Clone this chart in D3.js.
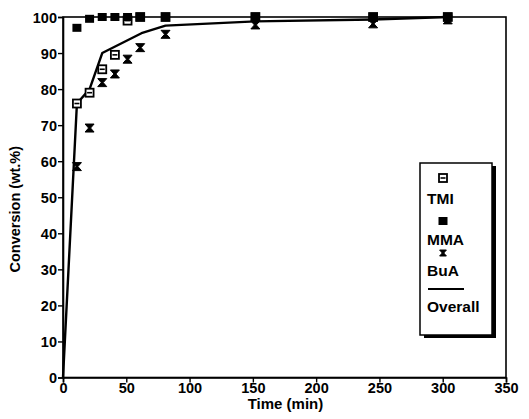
<!DOCTYPE html>
<html>
<head>
<meta charset="utf-8">
<script src="https://cdn.jsdelivr.net/npm/d3@7"></script>
<style>
  body { margin: 0; background: #fff; }
  text { font-family: "Liberation Sans", Arial, sans-serif; font-weight: bold; }
</style>
</head>
<body>
<svg id="chart"></svg>
<script>
const times = [11, 21, 31, 41, 51, 61, 81, 152, 245, 304];
const tmi = [76, 79, 85.5, 89.5, 99, 100, 100, 100, 100, 100];
const mma = [97, 99.5, 100, 100, 100, 100, 100, 100, 100, 100];
const bua = [58.5, 69.2, 81.8, 84.2, 88.3, 91.5, 95.2, 97.8, 98.1, 99.2];
const overallT = [0, 11, 21, 31, 62, 81, 152, 245, 304];
const overallY = [0, 76, 80, 90, 95.5, 97.6, 98.8, 99.3, 100];
const xTicks = [0, 50, 100, 150, 200, 250, 300, 350];
const yTicks = [0, 10, 20, 30, 40, 50, 60, 70, 80, 90, 100];
const legendLabels = ["TMI", "MMA", "BuA", "Overall"];

const width = 529;
const height = 419;
const margin = { top: 17, right: 23, bottom: 41.5, left: 63 };

const svg = d3.select("#chart").attr("width", width).attr("height", height);

const x = d3.scaleLinear().domain([0, 350]).range([margin.left, width - margin.right]);
const y = d3.scaleLinear().domain([0, 100]).range([height - margin.bottom, margin.top]);

// frame
svg.append("rect")
  .attr("x", x(0)).attr("y", y(100))
  .attr("width", x(350) - x(0)).attr("height", y(0) - y(100))
  .attr("fill", "none").attr("stroke", "#000").attr("stroke-width", 1.6);

const xAxis = svg.append("g")
  .attr("transform", `translate(0,${y(0)})`)
  .call(d3.axisBottom(x).tickValues(xTicks).tickSize(5).tickPadding(0));
const yAxis = svg.append("g")
  .attr("transform", `translate(${x(0)},0)`)
  .call(d3.axisLeft(y).tickValues(yTicks).tickSize(5).tickPadding(1));

[xAxis, yAxis].forEach(g => {
  g.select(".domain").attr("stroke-width", 1.6);
  g.selectAll(".tick line").attr("stroke-width", 1.4);
  g.selectAll(".tick text")
    .attr("font-size", 14.5)
    .attr("font-family", "Liberation Sans, Arial, sans-serif")
    .attr("font-weight", "bold")
    .attr("fill", "#000");
});
yAxis.selectAll(".tick text").attr("dy", "0.35em");

// axis titles
svg.append("text")
  .attr("x", (x(0) + x(350)) / 2 + 1).attr("y", 409)
  .attr("text-anchor", "middle").attr("font-size", 15)
  .text("Time (min)");
svg.append("text")
  .attr("transform", `translate(20,${(y(0) + y(100)) / 2 + 12}) rotate(-90)`)
  .attr("text-anchor", "middle").attr("font-size", 14.5)
  .text("Conversion (wt.%)");

// overall line
const line = d3.line().x(d => x(d[0])).y(d => y(d[1]));
svg.append("path")
  .datum(overallT.map((t, i) => [t, overallY[i]]))
  .attr("d", line)
  .attr("fill", "none").attr("stroke", "#000").attr("stroke-width", 2.4)
  .attr("stroke-linejoin", "round");

// markers
function tmiMarker(g, cx, cy) {
  g.append("rect").attr("x", cx - 4).attr("y", cy - 4).attr("width", 8).attr("height", 8)
    .attr("fill", "#fff").attr("stroke", "#000").attr("stroke-width", 1.8);
  g.append("line").attr("x1", cx - 2.5).attr("x2", cx + 2.5).attr("y1", cy).attr("y2", cy)
    .attr("stroke", "#000").attr("stroke-width", 1.6);
}
function mmaMarker(g, cx, cy) {
  g.append("rect").attr("x", cx - 4.5).attr("y", cy - 4).attr("width", 9).attr("height", 8)
    .attr("fill", "#000");
}
function buaMarker(g, cx, cy, s = 1) {
  const w = 4.5 * s, h = 4 * s;
  g.append("path")
    .attr("d", `M${cx - w},${cy - h}H${cx + w}L${cx + s},${cy}L${cx + w},${cy + h}H${cx - w}L${cx - s},${cy}Z`)
    .attr("fill", "#000").attr("stroke", "#000").attr("stroke-width", 1);
}

const marks = svg.append("g");
times.forEach((t, i) => buaMarker(marks, x(t), y(bua[i])));
times.forEach((t, i) => tmiMarker(marks, x(t), y(tmi[i])));
times.forEach((t, i) => mmaMarker(marks, x(t), y(mma[i])));

// legend
const lg = svg.append("g");
const lx = 420, ly = 163, lw = 72, lh = 172;
lg.append("rect").attr("x", lx + 4).attr("y", ly + 3).attr("width", lw).attr("height", lh).attr("fill", "#000");
lg.append("rect").attr("x", lx).attr("y", ly).attr("width", lw).attr("height", lh)
  .attr("fill", "#fff").attr("stroke", "#000").attr("stroke-width", 1.5);

tmiMarker(lg, 443, 178);
mmaMarker(lg, 443, 221);
buaMarker(lg, 443, 253, 0.75);
lg.append("line").attr("x1", 428).attr("x2", 464).attr("y1", 289).attr("y2", 289)
  .attr("stroke", "#000").attr("stroke-width", 2);

const labelY = [199, 240, 271, 307];
legendLabels.forEach((lab, i) => {
  lg.append("text").attr("x", 427).attr("y", labelY[i]).attr("dy", "0.35em")
    .attr("font-size", 15.5).text(lab);
});
</script>
</body>
</html>
